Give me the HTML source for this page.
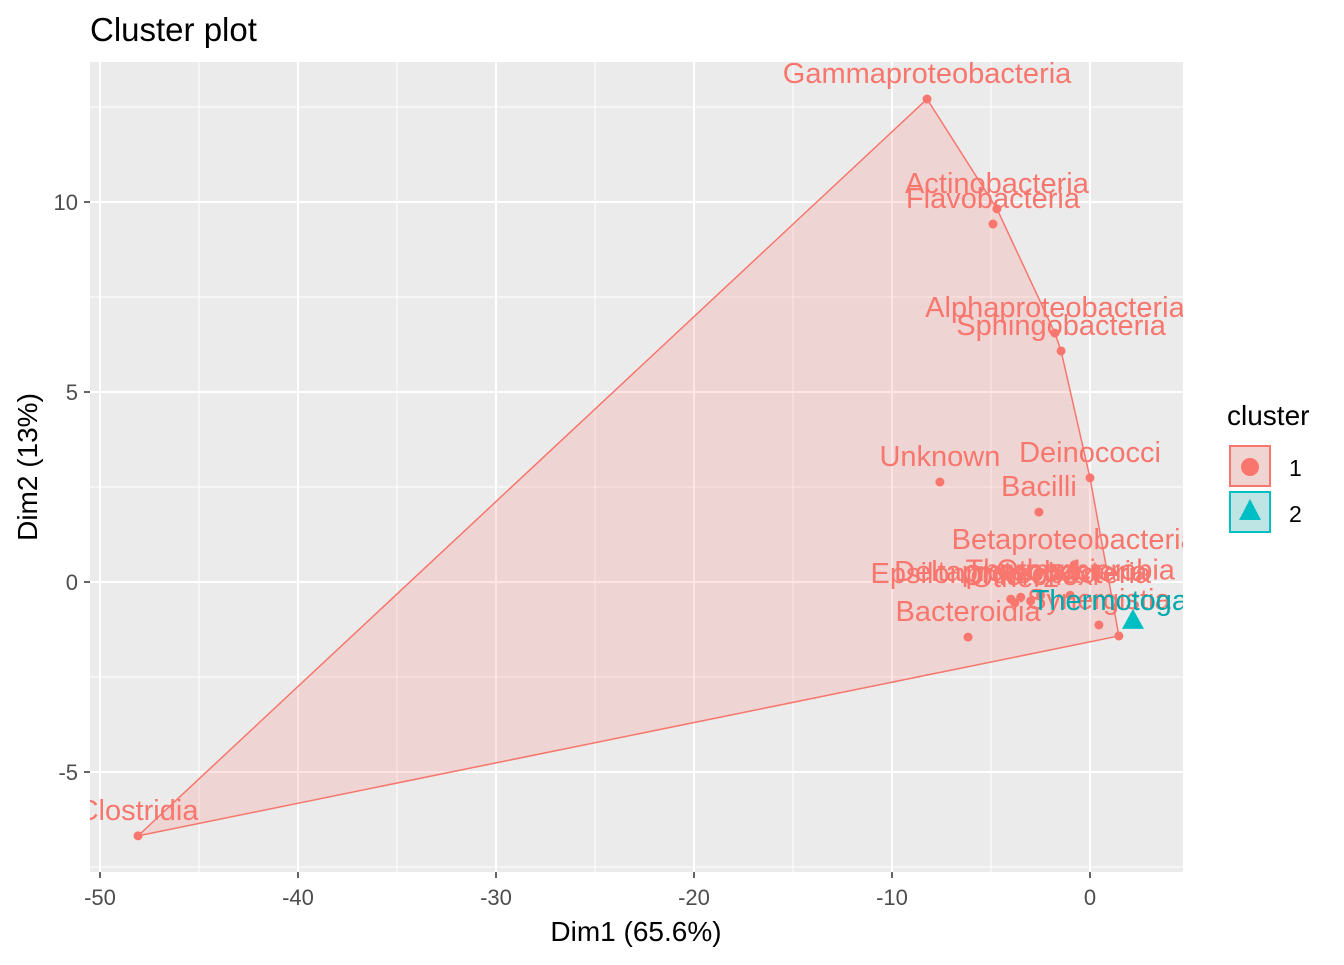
<!DOCTYPE html>
<html><head><meta charset="utf-8"><style>
body{margin:0;background:#fff}
svg text{font-family:"Liberation Sans",sans-serif}
</style></head><body>
<svg id="c" width="1344" height="960">
<defs><clipPath id="pc"><rect x="90" y="62" width="1093" height="810"/></clipPath></defs>
<rect x="90" y="62" width="1093" height="810" fill="#EBEBEB"/>
<g id="grid"></g>
<g id="marks" clip-path="url(#pc)"></g>
<g id="axes"></g>
<text x="90" y="41" font-size="33" fill="#000">Cluster plot</text>
<text x="636" y="941" font-size="28" text-anchor="middle" fill="#000">Dim1 (65.6%)</text>
<text transform="translate(37,467) rotate(-90)" font-size="28" text-anchor="middle" fill="#000">Dim2 (13%)</text>
<g>
<text x="1227" y="425" font-size="28">cluster</text>
<g><rect x="1230" y="446" width="40" height="40" fill="#F0D4D2" stroke="#F8766D" stroke-width="2"/><circle cx="1250" cy="467" r="9" fill="#F8766D"/><text x="1289" y="476" font-size="23">1</text></g>
<g><rect x="1230" y="492" width="40" height="40" fill="#BEE4E4" stroke="#00BFC4" stroke-width="2"/><polygon points="1250,499 1261,520 1239,520" fill="#00BFC4"/><text x="1289" y="522" font-size="23">2</text></g>
</g>
</svg>
<script>
const names1=["Gammaproteobacteria","Actinobacteria","Flavobacteria","Alphaproteobacteria","Sphingobacteria","Unknown","Deinococci","Bacilli","Clostridia","Bacteroidia","Synergistia","Betaproteobacteria","Deltaproteobacteria","Thermomicrobia","Epsilonproteobacteria","Chloroflexi","Other1","Other2","Other3"];
const x1=[-8.23,-4.7,-4.9,-1.77,-1.46,-7.58,0,-2.58,-48.08,-6.16,0.45,-0.8,-3.5,-1.0,-4.0,-3.0,-2.5,-3.8,1.46];
const y1=[12.71,9.82,9.42,6.55,6.08,2.63,2.74,1.84,-6.68,-1.45,-1.13,0.45,-0.4,-0.35,-0.45,-0.5,-0.35,-0.55,-1.42];
const lab1=[1,1,1,1,1,1,1,1,1,1,1,1,1,1,1,1,1,1,0];
const names2=["Thermotogae"];
const x2=[2.17];const y2=[-1.05];
const xTicks=[-50,-40,-30,-20,-10,0];const yTicks=[-5,0,5,10];
const X=v=>1090+19.8*v, Y=v=>582-38*v;
const NS="http://www.w3.org/2000/svg";
function mk(t,a,p){const e=document.createElementNS(NS,t);for(const k in a)e.setAttribute(k,a[k]);p.appendChild(e);return e;}
const grid=document.getElementById('grid'),marks=document.getElementById('marks'),axes=document.getElementById('axes');
for(let v=-45;v<=5;v+=10){const l=mk('line',{x1:X(v),x2:X(v),y1:62,y2:872,stroke:'#fff','stroke-width':1},grid);}
for(let v=-7.5;v<=12.5;v+=5){const l=mk('line',{y1:Y(v),y2:Y(v),x1:90,x2:1183,stroke:'#fff','stroke-width':1},grid);}
xTicks.forEach(v=>{const l=mk('line',{x1:X(v),x2:X(v),y1:62,y2:872,stroke:'#fff','stroke-width':2},grid);
const k=mk('line',{x1:X(v),x2:X(v),y1:872,y2:878,stroke:'#333','stroke-width':1.5},axes);
const t=mk('text',{x:X(v),y:905,'font-size':22,'text-anchor':'middle',fill:'#4D4D4D'},axes);t.textContent=v;});
yTicks.forEach(v=>{const l=mk('line',{y1:Y(v),y2:Y(v),x1:90,x2:1183,stroke:'#fff','stroke-width':2},grid);
const k=mk('line',{y1:Y(v),y2:Y(v),x1:84,x2:90,stroke:'#333','stroke-width':1.5},axes);
const t=mk('text',{x:78,y:Y(v)+8,'font-size':22,'text-anchor':'end',fill:'#4D4D4D'},axes);t.textContent=v;});
let P=x1.map((v,i)=>[v,y1[i]]).sort((a,b)=>a[0]-b[0]||a[1]-b[1]);
const cr=(o,a,b)=>(a[0]-o[0])*(b[1]-o[1])-(a[1]-o[1])*(b[0]-o[0]);
let lo=[],up=[];for(const p of P){while(lo.length>=2&&cr(lo[lo.length-2],lo[lo.length-1],p)<=0)lo.pop();lo.push(p);}
for(const p of P.slice().reverse()){while(up.length>=2&&cr(up[up.length-2],up[up.length-1],p)<=0)up.pop();up.push(p);}
const H=lo.slice(0,-1).concat(up.slice(0,-1));
const hull=mk('polygon',{points:H.map(p=>X(p[0])+','+Y(p[1])).join(' '),fill:'#F8766D','fill-opacity':0.2,stroke:'#F8766D','stroke-width':1.5},marks);

x1.forEach((v,i)=>{const c=mk('circle',{cx:X(v),cy:Y(y1[i]),r:4.5,fill:'#F8766D'},marks);});
x2.forEach((v,i)=>{const c=mk('polygon',{points:`${X(v)},${Y(y2[i])-13} ${X(v)+11},${Y(y2[i])+7} ${X(v)-11},${Y(y2[i])+7}`,fill:'#00BFC4'},marks);});
x1.forEach((v,i)=>{if(!lab1[i])return;const t=mk('text',{x:X(v),y:Y(y1[i])-16,'font-size':29,'text-anchor':'middle',fill:'#F8766D'},marks);t.textContent=names1[i];});
x2.forEach((v,i)=>{const t=mk('text',{x:X(v)-15,y:Y(y2[i])-12,'font-size':29,'text-anchor':'middle',fill:'#00A9AD'},marks);t.textContent=names2[i];});
</script>
</body></html>
